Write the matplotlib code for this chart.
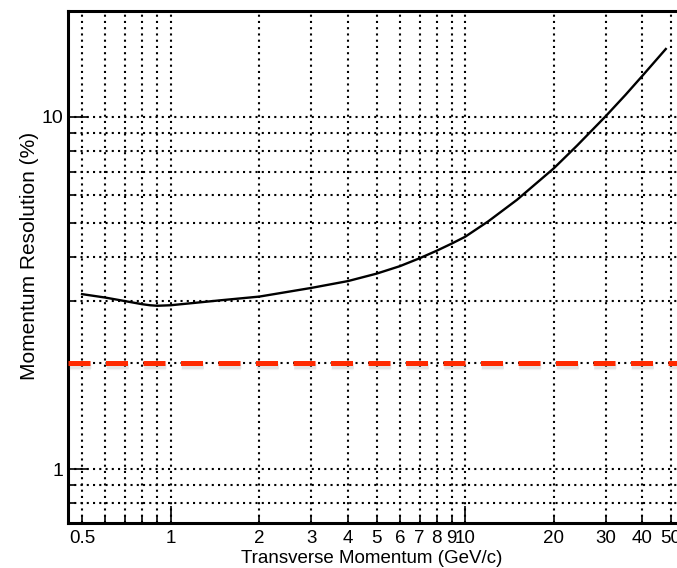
import matplotlib
matplotlib.use("Agg")
import matplotlib.pyplot as plt
import matplotlib.patheffects as pe
from matplotlib.ticker import NullFormatter

plt.rcParams['font.family'] = ['Liberation Sans', 'DejaVu Sans']

# resolution curve
pt = [0.5, 0.6, 0.7, 0.8, 0.85, 0.9, 1.0, 1.5, 2.0, 3.0, 4.0, 5.0, 6.0, 7.0,
      8.0, 9.0, 10.0, 12.0, 15.0, 20.0, 24.0, 30.0, 35.0, 40.0, 48.0]
resolution = [3.14, 3.07, 3.00, 2.94, 2.92, 2.91, 2.92, 3.02, 3.09, 3.27, 3.42,
              3.59, 3.77, 3.97, 4.17, 4.37, 4.57, 5.06, 5.82, 7.15, 8.30, 10.05,
              11.55, 13.1, 15.6]

# requirement line
target_resolution = 2.0

# ticks
x_major = [1, 10]
x_major_labels = ['1', '10']
x_minor = [0.5, 0.6, 0.7, 0.8, 0.9, 2, 3, 4, 5, 6, 7, 8, 9, 20, 30, 40, 50]
x_minor_labels = ['0.5', '', '', '', '', '2', '3', '4', '5', '6', '7', '8', '9',
                  '20', '30', '40', '50']
y_major = [1, 10]
y_major_labels = ['1', '10']
y_minor = [0.8, 0.9, 2, 3, 4, 5, 6, 7, 8, 9]

fig = plt.figure(figsize=(6.77, 5.68), dpi=100)
ax = fig.add_axes([68 / 677, 45 / 568, 622 / 677, 512 / 568])
ax.set_xscale('log')
ax.set_yscale('log')
ax.set_xlim(0.448, 58)
ax.set_ylim(0.703, 20)

ax.plot(pt, resolution, color='black', lw=1.7, zorder=3)

# dashed red line with a soft shadow
shadow = [pe.SimpleLineShadow(offset=(0.8, -2.4), shadow_color='gray', alpha=0.10, linewidth=6),
          pe.SimpleLineShadow(offset=(0.8, -2.0), shadow_color='gray', alpha=0.12),
          pe.Normal()]
ax.axhline(target_resolution, color='#ff2a00', lw=3.6, dashes=(4.4, 3.1),
           dash_capstyle='butt', zorder=4, path_effects=shadow)

ax.set_xticks(x_major, x_major_labels)
ax.set_xticks(x_minor, x_minor_labels, minor=True)
ax.set_yticks(y_major, y_major_labels)
ax.set_yticks(y_minor, minor=True)
ax.yaxis.set_minor_formatter(NullFormatter())

ax.tick_params(which='both', direction='in', width=1.2)
ax.tick_params(axis='x', which='both', labelsize=13.5, pad=5)
ax.tick_params(axis='y', which='both', labelsize=14, pad=3.5)
ax.tick_params(which='major', length=12)
ax.tick_params(which='minor', length=6)
ax.tick_params(axis='y', which='major', length=14)

ax.grid(True, which='both', color='black', lw=1.5, linestyle=(0, (1, 2)))
ax.set_axisbelow(True)

for side in ['left', 'bottom', 'top']:
    ax.spines[side].set_linewidth(2.2)
ax.spines['right'].set_visible(False)

ax.set_xlabel('Transverse Momentum (GeV/c)', fontsize=13.5, labelpad=2)
ax.xaxis.label.set_x(0.489)
ax.set_ylabel('Momentum Resolution (%)', fontsize=15, labelpad=2)
ax.yaxis.label.set_y(0.521)

fig.savefig('out.png', dpi=100)
